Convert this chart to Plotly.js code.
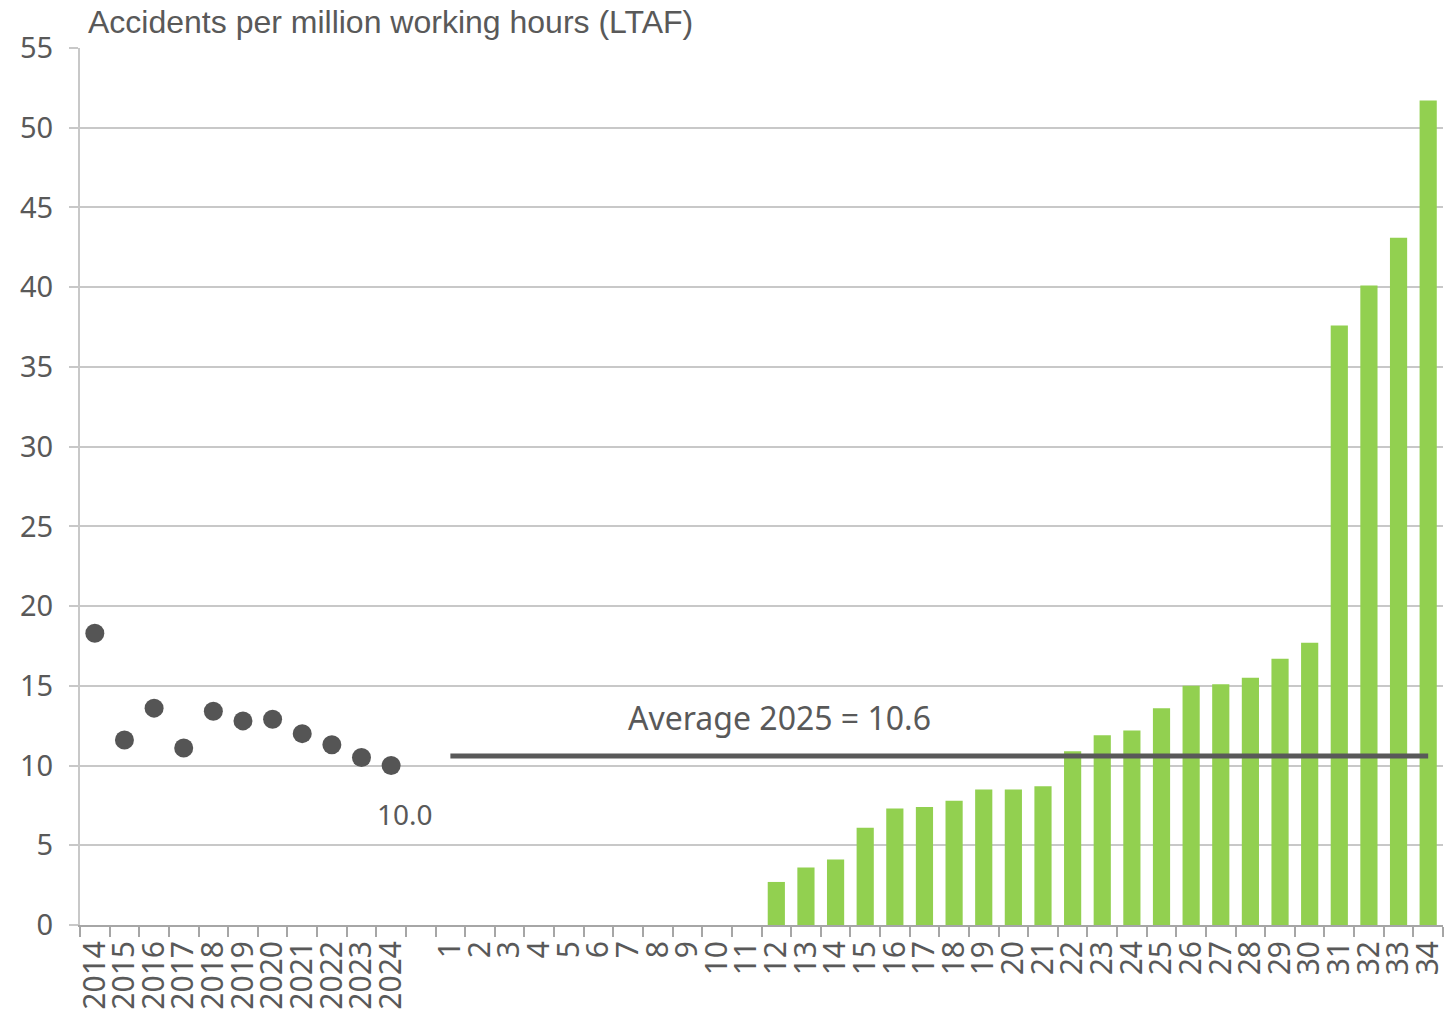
<!DOCTYPE html>
<html>
<head>
<meta charset="utf-8">
<script src="https://cdn.plot.ly/plotly-3.0.1.min.js"></script>
<style>html,body{margin:0;padding:0;background:#fff;}#chart{width:1453px;height:1012px;}</style>
</head>
<body>
<div id="chart"></div>
<script>
const years = ["2014","2015","2016","2017","2018","2019","2020","2021","2022","2023","2024"];
const yearValues = [18.3, 11.6, 13.6, 11.1, 13.4, 12.8, 12.9, 12.0, 11.3, 10.5, 10.0];
const gapCategory = [" "];
const units = ["1","2","3","4","5","6","7","8","9","10","11","12","13","14","15","16","17","18","19","20","21","22","23","24","25","26","27","28","29","30","31","32","33","34"];
const unitValues = [null,null,null,null,null,null,null,null,null,null,null,
  2.7, 3.6, 4.1, 6.1, 7.3, 7.4, 7.8, 8.5, 8.5, 8.7, 10.9, 11.9, 12.2, 13.6, 15.0, 15.1, 15.5, 16.7, 17.7, 37.6, 40.1, 43.1, 51.7];
const average2025 = 10.6;
const lastYearLabel = "10.0";
const titleText = "Accidents per million working hours (LTAF)";
const averageText = "Average 2025 = 10.6";

const categories = years.concat(gapCategory, units);
const grey = "#595959";

const traces = [
  {
    type: "bar", x: units, y: unitValues,
    marker: {color: "#92d050"}, hoverinfo: "x+y", showlegend: false
  },
  {
    type: "scatter", mode: "markers", x: years, y: yearValues,
    marker: {color: "#555555", size: 19}, showlegend: false
  },
  {
    type: "scatter", mode: "lines", x: [units[0], units[units.length-1]], y: [average2025, average2025],
    line: {color: "#595959", width: 5}, showlegend: false
  }
];

const layout = {
  width: 1453, height: 1012,
  margin: {l: 80, r: 10, t: 48, b: 87},
  paper_bgcolor: "#fff", plot_bgcolor: "#fff",
  bargap: 0.42,
  font: {family: "Noto Sans, sans-serif", color: grey},
  title: {
    text: titleText, x: 88/1453, xanchor: "left", xref: "container",
    y: 1 - 22/1012, yanchor: "middle", yref: "container",
    font: {family: "Liberation Sans, Arial, sans-serif", size: 32, color: grey}
  },
  xaxis: {
    type: "category", categoryorder: "array", categoryarray: categories,
    range: [-0.5, categories.length - 0.5],
    tickvals: categories, ticktext: categories,
    tickangle: -90, tickfont: {size: 30, color: grey, family: "Noto Sans, sans-serif"},
    ticks: "outside", tickson: "boundaries", ticklen: 10, tickcolor: "#a6a6a6", tickwidth: 2,
    ticklabelstandoff: 2,
    showline: true, linecolor: "#a6a6a6", linewidth: 2,
    showgrid: false, zeroline: false, fixedrange: true
  },
  yaxis: {
    range: [0, 55], dtick: 5, tick0: 0,
    tickfont: {size: 29, color: grey, family: "Noto Sans, sans-serif"},
    ticks: "outside", ticklen: 9, tickcolor: "#c8c8c8", tickwidth: 2,
    ticklabelstandoff: 10,
    showgrid: true, gridcolor: "#c8c8c8", gridwidth: 2,
    showline: true, linecolor: "#c8c8c8", linewidth: 2,
    zeroline: false, fixedrange: true
  },
  annotations: [
    {
      x: categories.indexOf(years[years.length-1]), y: yearValues[yearValues.length-1], xref: "x", yref: "y",
      text: lastYearLabel, showarrow: false, xshift: 14, yshift: -48,
      font: {size: 28, color: grey, family: "Noto Sans, sans-serif"}
    },
    {
      x: categories.indexOf(units[11]), y: average2025, xref: "x", yref: "y",
      text: averageText, showarrow: false, xshift: 3, yshift: 38,
      font: {size: 32, color: grey, family: "Noto Sans, sans-serif"}
    }
  ]
};

Plotly.newPlot("chart", traces, layout, {displayModeBar: false, staticPlot: true});
</script>
</body>
</html>
